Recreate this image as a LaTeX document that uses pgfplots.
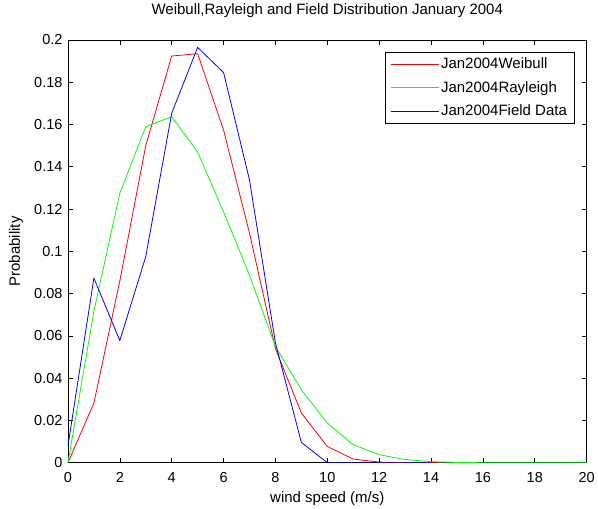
\documentclass[border=0pt]{standalone}
\usepackage{fontspec}
\setmainfont{Liberation Sans}
\usepackage{pgfplots}
\pgfplotsset{compat=1.18}
\definecolor{mred}{RGB}{255,0,0}
\definecolor{mgreen}{RGB}{0,255,0}
\definecolor{mblue}{RGB}{0,0,255}

\begin{document}
\begin{tikzpicture}
\begin{axis}[
  scale only axis,
  width=519bp, height=423bp,
  xmin=0, xmax=20, ymin=0, ymax=0.2,
  xtick={0,2,...,20},
  ytick={0,0.02,0.04,0.06,0.08,0.1,0.12,0.14,0.16,0.18,0.2},
  yticklabels={0,0.02,0.04,0.06,0.08,0.1,0.12,0.14,0.16,0.18,0.2},
  /pgf/number format/assume math mode=true,
  tick align=inside,
  major tick length=5bp,
  tick style={black, line width=0.6bp},
  axis line style={line width=0.6bp},
  tick label style={font=\fontsize{14.5bp}{16bp}\selectfont},
  xticklabel style={anchor=center, yshift=-15bp},
  yticklabel style={anchor=east, xshift=-2bp},
  title={Weibull,Rayleigh and Field Distribution January 2004},
  title style={font=\fontsize{15bp}{17bp}\selectfont,
    at={(axis description cs:0.5,1)}, anchor=center, yshift=23bp},
  xlabel={wind speed (m/s)},
  ylabel={Probability},
  label style={font=\fontsize{15bp}{17bp}\selectfont},
  xlabel style={at={(axis description cs:0.5,0)}, anchor=center, yshift=-36bp},
  ylabel style={at={(axis description cs:0,0.5)}, anchor=center, yshift=52bp},
  legend style={at={(0.976,0.972)}, anchor=north east, draw=black,
    line width=0.6bp, font=\fontsize{15bp}{17bp}\selectfont,
    inner xsep=5bp, inner ysep=4bp, row sep=7bp},
  legend cell align=left,
  legend image code/.code={\draw[#1, line width=0.8bp] (0bp,0bp) -- (48bp,0bp);},
  every axis plot/.append style={line width=0.8bp},
]
\addplot[mred] coordinates {
  (0,0) (1,0.0282) (2,0.086) (3,0.150) (4,0.1924) (5,0.1935) (6,0.1574)
  (7,0.1086) (8,0.054) (9,0.0235) (10,0.0077) (11,0.0017) (12,0.0003)
  (13,0.0) (14,0.0) (14.5,0.0)
};
\addlegendentry{Jan2004Weibull}
\addplot[mgreen] coordinates {
  (0,0) (1,0.0716) (2,0.1275) (3,0.159) (4,0.1637) (5,0.147) (6,0.1187)
  (7,0.0887) (8,0.055) (9,0.0345) (10,0.0188) (11,0.0085) (12,0.0038)
  (13,0.0015) (14,0.0005) (15,0.0001) (16,0) (17,0) (18,0) (19,0) (20,0)
};
\addlegendentry{Jan2004Rayleigh}
\addplot[mblue] coordinates {
  (0,0.008) (1,0.0873) (2,0.0578) (3,0.0975) (4,0.1653) (5,0.1965) (6,0.1846)
  (7,0.1338) (8,0.0567) (9,0.0096) (10,0) (11,0) (12,0) (13,0) (14,0)
};
\addlegendentry{Jan2004Field Data}
\end{axis}
\useasboundingbox (-68bp,-44bp) rectangle (530bp,463bp);
\end{tikzpicture}
\end{document}
